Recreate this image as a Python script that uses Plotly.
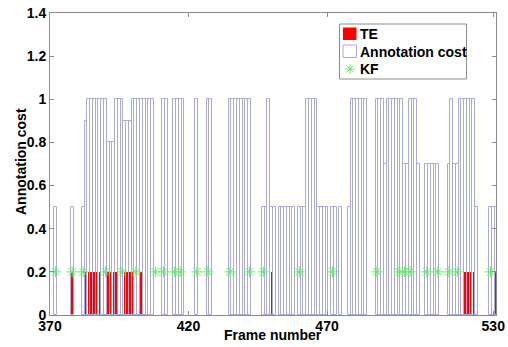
import plotly.graph_objects as go

# Frames 370..531 and annotation cost per frame
frame_start = 370
annotation_cost = [
    0, 0, 0.5, 0, 0, 0, 0, 0, 0.5, 0,            # 370-379
    0, 0, 0.5, 0.9, 1, 1, 1, 1, 1, 1,            # 380-389
    1, 0.8, 0.8, 0.8, 1, 1, 1, 0.9, 0.9, 0.9,    # 390-399
    1, 1, 1, 1, 1, 1, 1, 1, 0, 0,                # 400-409
    0, 1, 1, 0, 0, 1, 1, 1, 1, 0,                # 410-419
    0, 0, 0, 1, 0, 0, 0, 1, 1, 0,                # 420-429
    0, 0, 0, 0, 0, 1, 1, 1, 1, 1,                # 430-439
    1, 1, 1, 0, 0, 0, 0, 0.5, 0.5, 1,            # 440-449
    0.5, 0.5, 0, 0.5, 0.5, 0.5, 0.5, 0.5, 0.5, 0,  # 450-459
    0.5, 0.5, 0.5, 1, 1, 1, 1, 0.5, 0.5, 0.5,    # 460-469
    0.5, 0, 0.5, 0.5, 0, 0.5, 0, 0, 0.5, 1,      # 470-479
    1, 1, 1, 1, 1, 0, 0, 0, 1, 1,                # 480-489
    1, 0.7, 1, 1, 1, 1, 1, 1, 0.7, 0.7,          # 490-499
    1, 1, 1, 0.7, 0, 0, 0.7, 0.7, 0.7, 0.7,      # 500-509
    0.7, 0, 0, 0, 0.7, 1, 0.7, 0.7, 1, 1,        # 510-519
    1, 1, 1, 1, 0.5, 0, 0, 0, 0, 0.5,            # 520-529
    0.5, 0.5,                                    # 530-531
]
frames = list(range(frame_start, frame_start + len(annotation_cost)))

te_frames = [378, 383, 384, 385, 386, 387, 388, 391, 392, 393, 394,
             397, 398, 399, 400, 403, 450, 520, 521, 522, 523, 531]
te_values = [0.2] * len(te_frames)

kf_frames = [372, 378, 382, 390, 396, 401, 408, 411, 415, 417, 423, 427,
             435, 442, 447, 460, 472, 488, 496, 498, 500, 506, 510, 514,
             517, 529]
kf_values = [0.2] * len(kf_frames)

legend_labels = ["TE", "Annotation cost", "KF"]

x_tick_vals = [370, 420, 470, 530]
x_tick_text = ["370", "420", "470", "530"]
y_tick_vals = [0, 0.2, 0.4, 0.6, 0.8, 1.0, 1.2, 1.4]
y_tick_text = ["0", "0.2", "0.4", "0.6", "0.8", "1", "1.2", "1.4"]

nz_x = [f for f, c in zip(frames, annotation_cost) if c > 0]
nz_y = [c for c in annotation_cost if c > 0]

FONT = "Liberation Sans, Arial, sans-serif"
RED = "rgb(255,0,0)"
EDGE = "rgb(170,170,215)"
GREEN = "rgb(100,235,100)"
AXIS = "rgb(140,140,140)"

W, H = 508, 347
L, R, T, B = 50, 12, 13, 32
PW, PH = W - L - R, H - T - B


def px(x):
    return (x - L) / PW


def py(y):
    return (H - B - y) / PH


fig = go.Figure()
fig.add_trace(go.Bar(
    x=te_frames, y=te_values, width=0.8, name=legend_labels[0],
    marker=dict(color=RED, line=dict(width=0)), showlegend=False,
))
fig.add_trace(go.Bar(
    x=nz_x, y=nz_y, width=1.0, name=legend_labels[1],
    marker=dict(color="rgba(255,255,255,0)", line=dict(color=EDGE, width=1)),
    showlegend=False,
))
fig.add_trace(go.Scatter(
    x=kf_frames, y=kf_values, mode="markers", name=legend_labels[2],
    marker=dict(symbol="asterisk-open", size=9, color=GREEN,
                line=dict(color=GREEN, width=1)),
    showlegend=False,
))

# legend glyph for KF on a helper overlay axis spanning the plot area (0..1)
fig.add_trace(go.Scatter(
    x=[px(350)], y=[py(69)], mode="markers", xaxis="x2", yaxis="y2",
    marker=dict(symbol="asterisk-open", size=8, color=GREEN,
                line=dict(color=GREEN, width=1)),
    showlegend=False, hoverinfo="skip",
))

axis_common = dict(
    showline=True, linecolor=AXIS, linewidth=1,
    mirror="ticks", ticks="inside", ticklen=4, tickcolor=AXIS,
    showgrid=False, zeroline=False, automargin=False,
    tickfont=dict(family=FONT, size=14, color="black", weight="bold"),
)

shapes = [
    # legend box
    dict(type="rect", xref="paper", yref="paper",
         x0=px(339.5), x1=px(466.5), y0=py(79), y1=py(24),
         line=dict(color=AXIS, width=1), fillcolor="rgba(0,0,0,0)", layer="above"),
    # TE swatch
    dict(type="rect", xref="paper", yref="paper",
         x0=px(343), x1=px(356.5), y0=py(40), y1=py(27.5),
         line=dict(width=0), fillcolor=RED, layer="above"),
    # Annotation cost swatch
    dict(type="rect", xref="paper", yref="paper",
         x0=px(343), x1=px(356.5), y0=py(57.5), y1=py(45),
         line=dict(color=EDGE, width=1), fillcolor="white", layer="above"),
]

annotations = [
    dict(text="<b>%s</b>" % legend_labels[0], xref="paper", yref="paper",
         x=px(358), y=py(34), xanchor="left", yanchor="middle", showarrow=False,
         font=dict(family=FONT, size=14, color="black")),
    dict(text="<b>%s</b>" % legend_labels[1], xref="paper", yref="paper",
         x=px(358), y=py(51.5), xanchor="left", yanchor="middle", showarrow=False,
         font=dict(family=FONT, size=14, color="black")),
    dict(text="<b>%s</b>" % legend_labels[2], xref="paper", yref="paper",
         x=px(358), y=py(69), xanchor="left", yanchor="middle", showarrow=False,
         font=dict(family=FONT, size=14, color="black")),
    # axis titles
    dict(text="<b>Frame number</b>", xref="paper", yref="paper",
         x=px(273), y=py(335), xanchor="center", yanchor="middle", showarrow=False,
         font=dict(family=FONT, size=14, color="black")),
    dict(text="<b>Annotation cost</b>", xref="paper", yref="paper",
         x=px(21), y=py(162), xanchor="center", yanchor="middle", showarrow=False,
         textangle=-90, font=dict(family=FONT, size=14, color="black")),
]

fig.update_layout(
    width=W, height=H,
    margin=dict(l=L, r=R, t=T, b=B),
    paper_bgcolor="white", plot_bgcolor="white",
    barmode="overlay", bargap=0,
    font=dict(family=FONT, size=14, color="black"),
    xaxis=dict(range=[370, 531], tickvals=x_tick_vals, ticktext=x_tick_text,
               ticklabelstandoff=-2, **axis_common),
    yaxis=dict(range=[0, 1.4], tickvals=y_tick_vals, ticktext=y_tick_text,
               **axis_common),
    xaxis2=dict(range=[0, 1], overlaying="x", visible=False, fixedrange=True),
    yaxis2=dict(range=[0, 1], overlaying="y", visible=False, fixedrange=True),
    shapes=shapes,
    annotations=annotations,
    showlegend=False,
)

fig.write_html(
    "out.html",
    config={"displayModeBar": False},
    post_script="document.body.style.margin='0';document.body.style.overflow='hidden';",
)
